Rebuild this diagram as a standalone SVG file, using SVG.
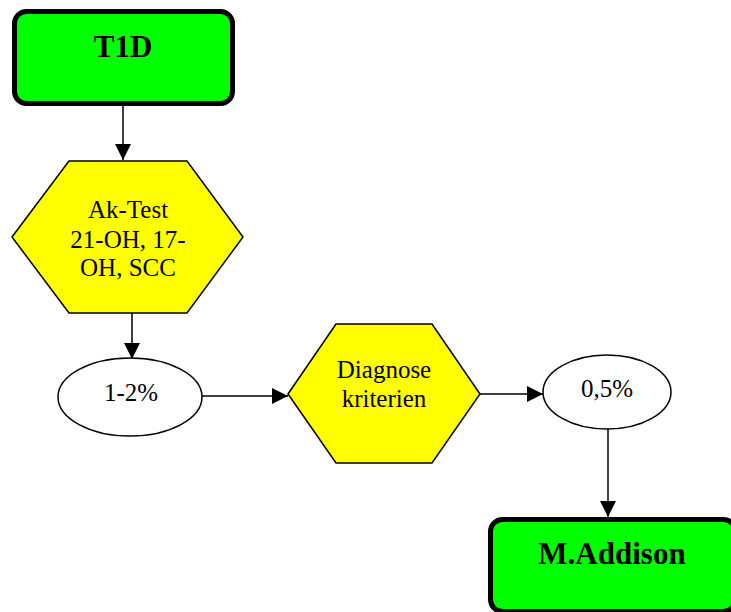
<svg xmlns="http://www.w3.org/2000/svg" width="731" height="612" viewBox="0 0 731 612">
<style>
.term{fill:#00ff00;stroke:#000;stroke-width:5}
.hex{fill:#ffff00;stroke:#000;stroke-width:1.5}
.ell{fill:#fff;stroke:#000;stroke-width:1.5}
.t{font-family:"Liberation Serif","Times New Roman",serif;font-size:25px;fill:#000;text-anchor:middle}
.b{font-family:"Liberation Serif","Times New Roman",serif;font-size:31px;font-weight:bold;fill:#000;text-anchor:middle}
</style>
<defs>
<marker id="ah2" viewBox="0 0 16 16" refX="16" refY="8" markerWidth="16" markerHeight="16" markerUnits="userSpaceOnUse" orient="auto">
<path d="M0,0 L16,8 L0,16 Z" fill="#000"/>
</marker>
</defs>
<g id="connectors">
<line x1="123" y1="106" x2="123" y2="160" stroke="#000" stroke-width="1.5" marker-end="url(#ah2)"/>
<line x1="132" y1="313" x2="132" y2="359" stroke="#000" stroke-width="1.5" marker-end="url(#ah2)"/>
<line x1="202" y1="396" x2="288" y2="396" stroke="#000" stroke-width="1.5" marker-end="url(#ah2)"/>
<line x1="480" y1="394" x2="543" y2="394" stroke="#000" stroke-width="1.5" marker-end="url(#ah2)"/>
<line x1="608" y1="429" x2="608" y2="517" stroke="#000" stroke-width="1.5" marker-end="url(#ah2)"/>
</g>
<g id="t1d">
<rect class="term" x="14.5" y="11.5" width="218" height="92" rx="12"/>
<text class="b" x="123" y="57">T1D</text>
</g>
<g id="aktest">
<polygon class="hex" points="12,237 69,161 187,161 243,237 187,313 69,313"/>
<text class="t" x="128" y="218">Ak-Test</text>
<text class="t" x="128" y="248">21-OH, 17-</text>
<text class="t" x="128" y="276">OH, SCC</text>
</g>
<g id="p12">
<ellipse class="ell" cx="130" cy="397" rx="72" ry="39"/>
<text class="t" x="131" y="401">1-2%</text>
</g>
<g id="diag">
<polygon class="hex" points="288,394 336,324 432,324 480,394 432,463 336,463"/>
<text class="t" x="384" y="378">Diagnose</text>
<text class="t" x="384" y="407">kriterien</text>
</g>
<g id="p05">
<ellipse class="ell" cx="607" cy="392" rx="64" ry="37"/>
<text class="t" x="607" y="397">0,5%</text>
</g>
<g id="addison">
<rect class="term" x="490.5" y="519.5" width="245" height="92" rx="12"/>
<text class="b" x="612" y="564">M.Addison</text>
</g>
</svg>
